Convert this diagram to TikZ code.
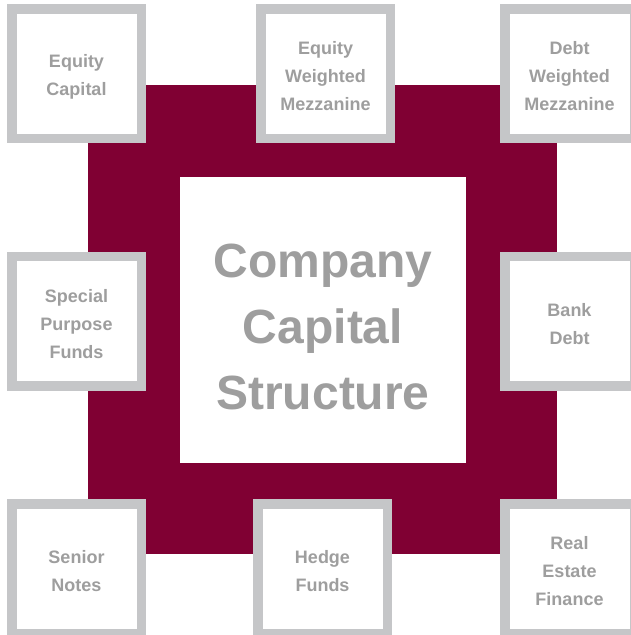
\documentclass[tikz,border=0pt]{standalone}
\usepackage{fontspec}
\setmainfont{Liberation Sans}
\definecolor{wine}{RGB}{128,0,51}
\definecolor{framegray}{RGB}{197,198,200}
\definecolor{textgray}{RGB}{158,158,158}

\begin{document}
\begin{tikzpicture}[x=1pt,y=-1pt,
    fund/.style={draw=framegray,line width=9.5pt,fill=white,minimum size=129.5pt,
        inner sep=0pt},
    fundtext/.style={align=center,text=textgray,yshift=-3pt,inner sep=0pt,
        font=\fontsize{18}{28}\selectfont\bfseries},
    coretext/.style={align=center,text=textgray,inner sep=0pt,
        font=\fontsize{48}{66}\selectfont\bfseries}]
    \useasboundingbox (0,0) rectangle (631,635);
    \clip (0,0) rectangle (631,635);
    % backing square and the centre panel
    \fill[wine] (88,85) rectangle (557,554);
    \fill[white] (180,177) rectangle (466,463);
    \node[coretext] (structure) at (323,327) {Company\\Capital\\Structure};
    % top row
    \node[fund,label={[fundtext]center:Equity\\Capital}] (equity) at (76.5,73.5) {};
    \node[fund,label={[fundtext]center:Equity\\Weighted\\Mezzanine}] (eqmezz) at (325.5,73.5) {};
    \node[fund,label={[fundtext]center:Debt\\Weighted\\Mezzanine}] (debtmezz) at (569.5,73.5) {};
    % middle row
    \node[fund,label={[fundtext]center:Special\\Purpose\\Funds}] (special) at (76.5,321) {};
    \node[fund,label={[fundtext]center:Bank\\Debt}] (bank) at (569.5,321) {};
    % bottom row
    \node[fund,label={[fundtext]center:Senior\\Notes}] (senior) at (76.5,568.5) {};
    \node[fund,label={[fundtext]center:Hedge\\Funds}] (hedge) at (322.5,568.5) {};
    \node[fund,label={[fundtext]center:Real\\Estate\\Finance}] (realestate) at (569.5,568.5) {};
\end{tikzpicture}
\end{document}
